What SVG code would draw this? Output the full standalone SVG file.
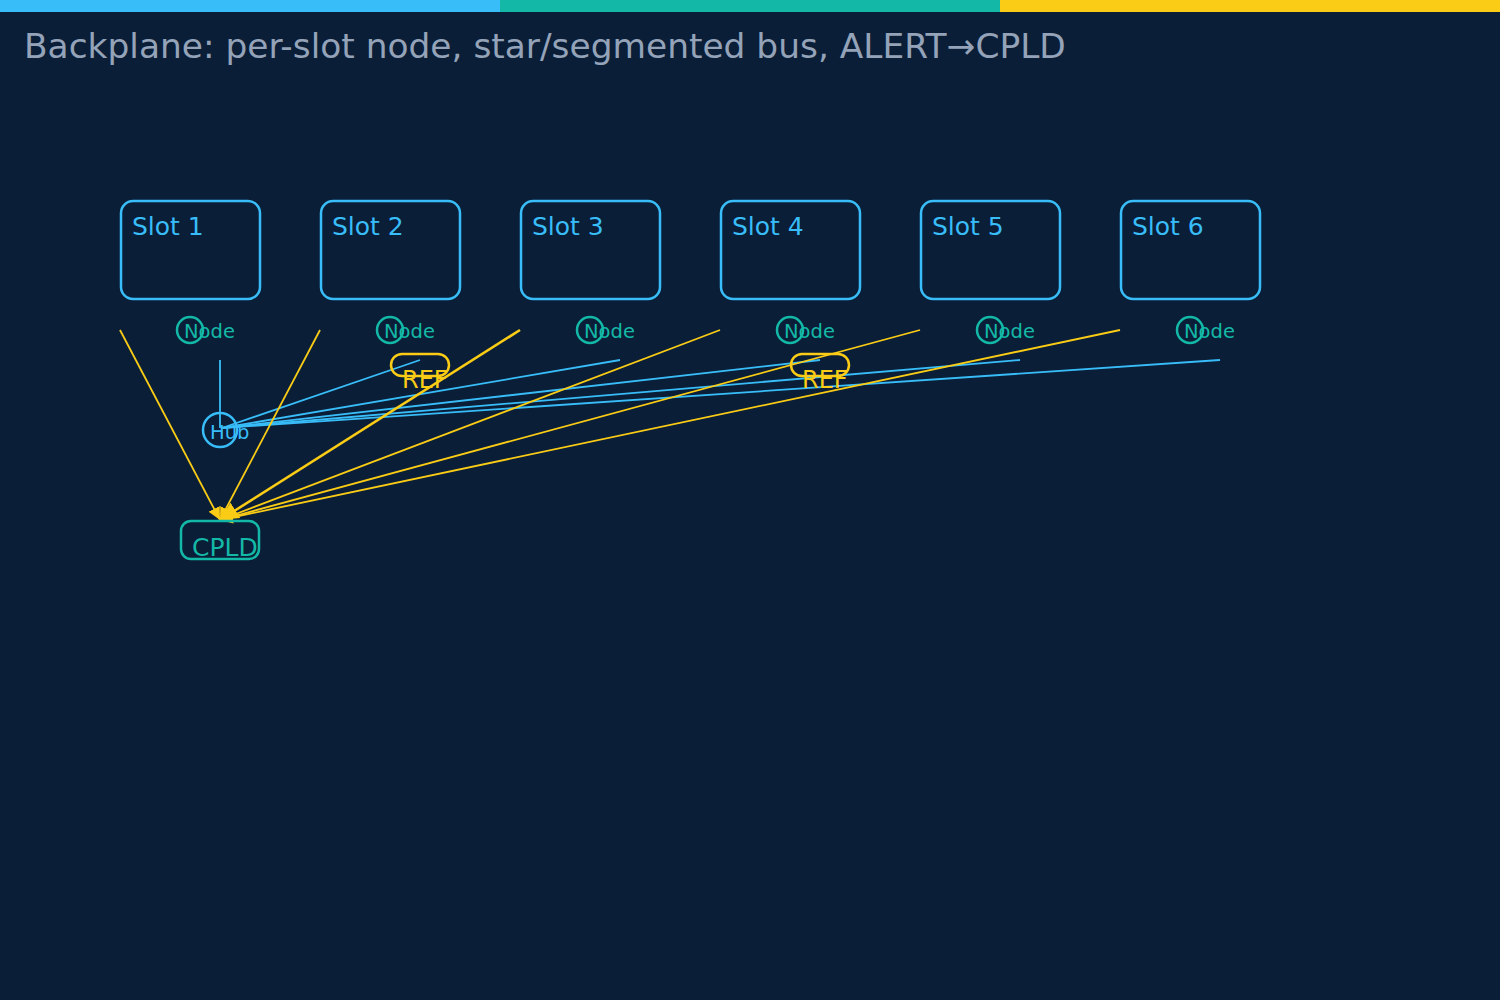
<svg xmlns="http://www.w3.org/2000/svg" width="1500" height="1000" viewBox="0 0 1500 1000">
<defs>
<style>
text{font-family:"DejaVu Sans","Noto Sans",sans-serif}
.slot{fill:none;stroke:#38bdf8;stroke-width:2.5}
.slotlbl{fill:#38bdf8;font-size:25px}
.nodec{fill:none;stroke:#14b8a6;stroke-width:2.5}
.nodet{fill:#14b8a6;font-size:19.5px}
.bus{stroke:#38bdf8;stroke-width:1.8;fill:none}
.alert{stroke:#facc15;stroke-width:1.8;fill:none;marker-end:url(#ah)}
.ref{fill:none;stroke:#facc15;stroke-width:2.5}
.reft{fill:#facc15;font-size:24px}
</style>
<marker id="ah" viewBox="0 0 10 10" refX="10" refY="5" markerWidth="7" markerHeight="7" orient="auto" markerUnits="strokeWidth">
<path d="M0,0 L10,5 L0,10 z" fill="#facc15"/>
</marker>
</defs>
<rect x="0" y="0" width="1500" height="1000" fill="#0a1e38"/>
<rect x="0" y="0" width="500" height="12" fill="#38bdf8"/>
<rect x="500" y="0" width="500" height="12" fill="#14b8a6"/>
<rect x="1000" y="0" width="500" height="12" fill="#facc15"/>
<text x="24" y="58" font-size="34.4" fill="#94a3b8">Backplane: per-slot node, star/segmented bus, ALERT→CPLD</text>

<g id="connectors">
<line class="bus" x1="220" y1="360" x2="220" y2="428"/>
<line class="bus" x1="420" y1="360" x2="222" y2="428"/>
<line class="bus" x1="620" y1="360" x2="222" y2="428"/>
<line class="bus" x1="820" y1="360" x2="222" y2="428"/>
<line class="bus" x1="1020" y1="360" x2="222" y2="428"/>
<line class="bus" x1="1220" y1="360" x2="222" y2="428"/>
<line class="alert" x1="120" y1="330" x2="220" y2="520"/>
<line class="alert" x1="320" y1="330" x2="220" y2="520"/>
<line class="alert" x1="520" y1="330" x2="220" y2="520" style="stroke-width:2.6"/>
<line class="alert" x1="720" y1="330" x2="220" y2="520"/>
<line class="alert" x1="920" y1="330" x2="220" y2="520"/>
<line class="alert" x1="1120" y1="330" x2="220" y2="520"/>
</g>

<g id="slot1"><rect class="slot" x="121" y="201" width="139" height="98" rx="12"/><text class="slotlbl" x="132" y="235">Slot 1</text></g>
<g id="slot2"><rect class="slot" x="321" y="201" width="139" height="98" rx="12"/><text class="slotlbl" x="332" y="235">Slot 2</text></g>
<g id="slot3"><rect class="slot" x="521" y="201" width="139" height="98" rx="12"/><text class="slotlbl" x="532" y="235">Slot 3</text></g>
<g id="slot4"><rect class="slot" x="721" y="201" width="139" height="98" rx="12"/><text class="slotlbl" x="732" y="235">Slot 4</text></g>
<g id="slot5"><rect class="slot" x="921" y="201" width="139" height="98" rx="12"/><text class="slotlbl" x="932" y="235">Slot 5</text></g>
<g id="slot6"><rect class="slot" x="1121" y="201" width="139" height="98" rx="12"/><text class="slotlbl" x="1132" y="235">Slot 6</text></g>

<g id="node1"><circle class="nodec" cx="190" cy="330" r="13"/><text class="nodet" x="184" y="338">Node</text></g>
<g id="node2"><circle class="nodec" cx="390" cy="330" r="13"/><text class="nodet" x="384" y="338">Node</text></g>
<g id="node3"><circle class="nodec" cx="590" cy="330" r="13"/><text class="nodet" x="584" y="338">Node</text></g>
<g id="node4"><circle class="nodec" cx="790" cy="330" r="13"/><text class="nodet" x="784" y="338">Node</text></g>
<g id="node5"><circle class="nodec" cx="990" cy="330" r="13"/><text class="nodet" x="984" y="338">Node</text></g>
<g id="node6"><circle class="nodec" cx="1190" cy="330" r="13"/><text class="nodet" x="1184" y="338">Node</text></g>

<g id="ref1"><rect class="ref" x="391" y="354" width="58" height="22" rx="11"/><text class="reft" x="402" y="388">REF</text></g>
<g id="ref2"><rect class="ref" x="791" y="354" width="58" height="22" rx="11"/><text class="reft" x="802" y="388">REF</text></g>

<g id="hub"><circle cx="220" cy="430" r="17" fill="none" stroke="#38bdf8" stroke-width="2.5"/><text x="210" y="439" font-size="19.5" fill="#38bdf8">Hub</text></g>

<g id="cpld"><rect x="181" y="521" width="78" height="38" rx="10" fill="none" stroke="#14b8a6" stroke-width="2.5"/><text x="192" y="556" font-size="25" fill="#14b8a6">CPLD</text></g>
</svg>
